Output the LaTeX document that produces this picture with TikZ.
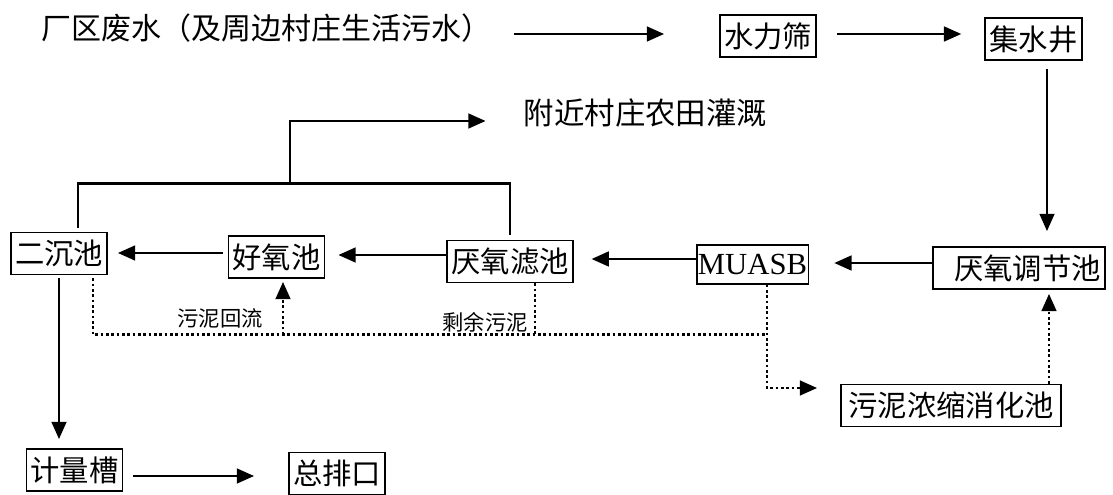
\documentclass[tikz,border=0pt]{standalone}
\usepackage{fontspec}
\newfontfamily\cjk{Noto Sans CJK SC}
\newfontfamily\tms{Liberation Serif}
\usetikzlibrary{arrows.meta,calc}
\tikzset{
  box/.style={draw, line width=1.3pt, inner xsep=3pt, inner ysep=0pt, minimum height=31.5pt,
    font=\cjk\fontsize{22}{24}\selectfont},
  plain/.style={inner sep=0pt, font=\cjk\fontsize{22.5}{24}\selectfont},
  lab/.style={inner sep=0pt, font=\cjk\fontsize{16}{17}\selectfont},
  conn/.style={line width=2pt},
  arr/.style={conn, -{Triangle[length=13pt,width=11pt]}},
  dot/.style={line width=2pt, dash pattern=on 2pt off 2pt},
  dotarr/.style={dot, -{Triangle[length=13pt,width=11pt]}}
}
\begin{document}
\begin{tikzpicture}[x=0.75pt,y=-0.75pt]
\path[use as bounding box, fill=white] (0,0) rectangle (1113,495);

% nodes
\node[plain] (title) at (266,28) {厂区废水（及周边村庄生活污水）};
\node[box, minimum width=70.5pt] (sl) at (768,36) {水力筛};
\node[box, minimum width=72.5pt] (jsj) at (1033.5,39) {集水井};
\node[plain, font=\cjk\fontsize{22.8}{24}\selectfont] (irr) at (645.5,113) {附近村庄农田灌溉};
\node[box] (ecc) at (59,253.5) {二沉池};
\node[box] (hyc) at (276.5,257) {好氧池};
\node[box] (yylc) at (510,261.5) {厌氧滤池};
\node[box, font=\tms\fontsize{23}{24}\selectfont, inner xsep=1pt, minimum height=29pt] (muasb) at (752.5,264.5) {MUASB};
\node[box] (ytj) at (1019,268) {\hspace*{12.5pt}厌氧调节池};
\node[box, minimum width=165pt] (wn) at (951,405.5) {污泥浓缩消化池};
\node[box] (jlc) at (74.5,470) {计量槽};
\node[box, minimum width=69pt] (zpk) at (337,473.5) {总排口};
\node[lab] (l1) at (220,318) {污泥回流};
\node[lab] (l2) at (485,322) {剩余污泥};

% main flow
\draw[arr] ($(title.east)+(23,6)$) -- ($(sl.west |- title.east)+(-55,6)$);
\draw[arr] ($(sl.east)+(20,-2)$) -- ($(jsj.west |- sl.east)+(-23,-2)$);
\draw[arr] ($(jsj.south)+(13.5,8)$) -- ($(jsj.south |- ytj.north)+(13.5,-15)$);
\draw[arr] ($(ytj.west)+(0,-5)$) -- ($(muasb.east |- ytj.west)+(25,-5)$);
\draw[arr] ($(muasb.west)+(0,-5.5)$) -- ($(yylc.east |- muasb.west)+(18,-5.5)$);
\draw[arr] ($(yylc.west)+(0,-6.5)$) -- ($(hyc.east |- yylc.west)+(13,-6.5)$);
\draw[arr] ($(hyc.west)+(-5,-4)$) -- ($(ecc.east |- hyc.west)+(10,-4)$);
\draw[arr] ($(ecc.south)+(0,3)$) -- ($(ecc.south |- jlc.north)+(0,-9)$);
\draw[arr] ($(jlc.east)+(10,6)$) -- ($(zpk.west |- jlc.east)+(-34,6)$);

% irrigation branch
\draw[conn] ($(ecc.north)+(19,-4)$) |- ($(yylc.north)+(0,-56)$) -- ($(yylc.north)+(0,-5)$);
\coordinate (br) at (290,184);
\draw[arr] (br) |- ($(irr.west)+(-38,8)$);

% sludge lines
\coordinate (jn) at ($(muasb.south)+(14.5,50)$);
\draw[dot] ($(ecc.south)+(34,3)$) |- (jn);
\draw[dot] ($(yylc.south)+(25,0)$) -- ($(yylc.south |- jn)+(25,0)$);
\draw[dotarr] ($(hyc.south |- jn)+(6.5,0)$) -- ($(hyc.south)+(6.5,3)$);
\draw[dotarr] ($(muasb.south)+(14.5,0)$) |- ($(wn.west)+(-23,-17.5)$);
\draw[dotarr] ($(wn.north)+(98,0)$) -- ($(wn.north |- ytj.south)+(98,4)$);
\end{tikzpicture}
\end{document}
